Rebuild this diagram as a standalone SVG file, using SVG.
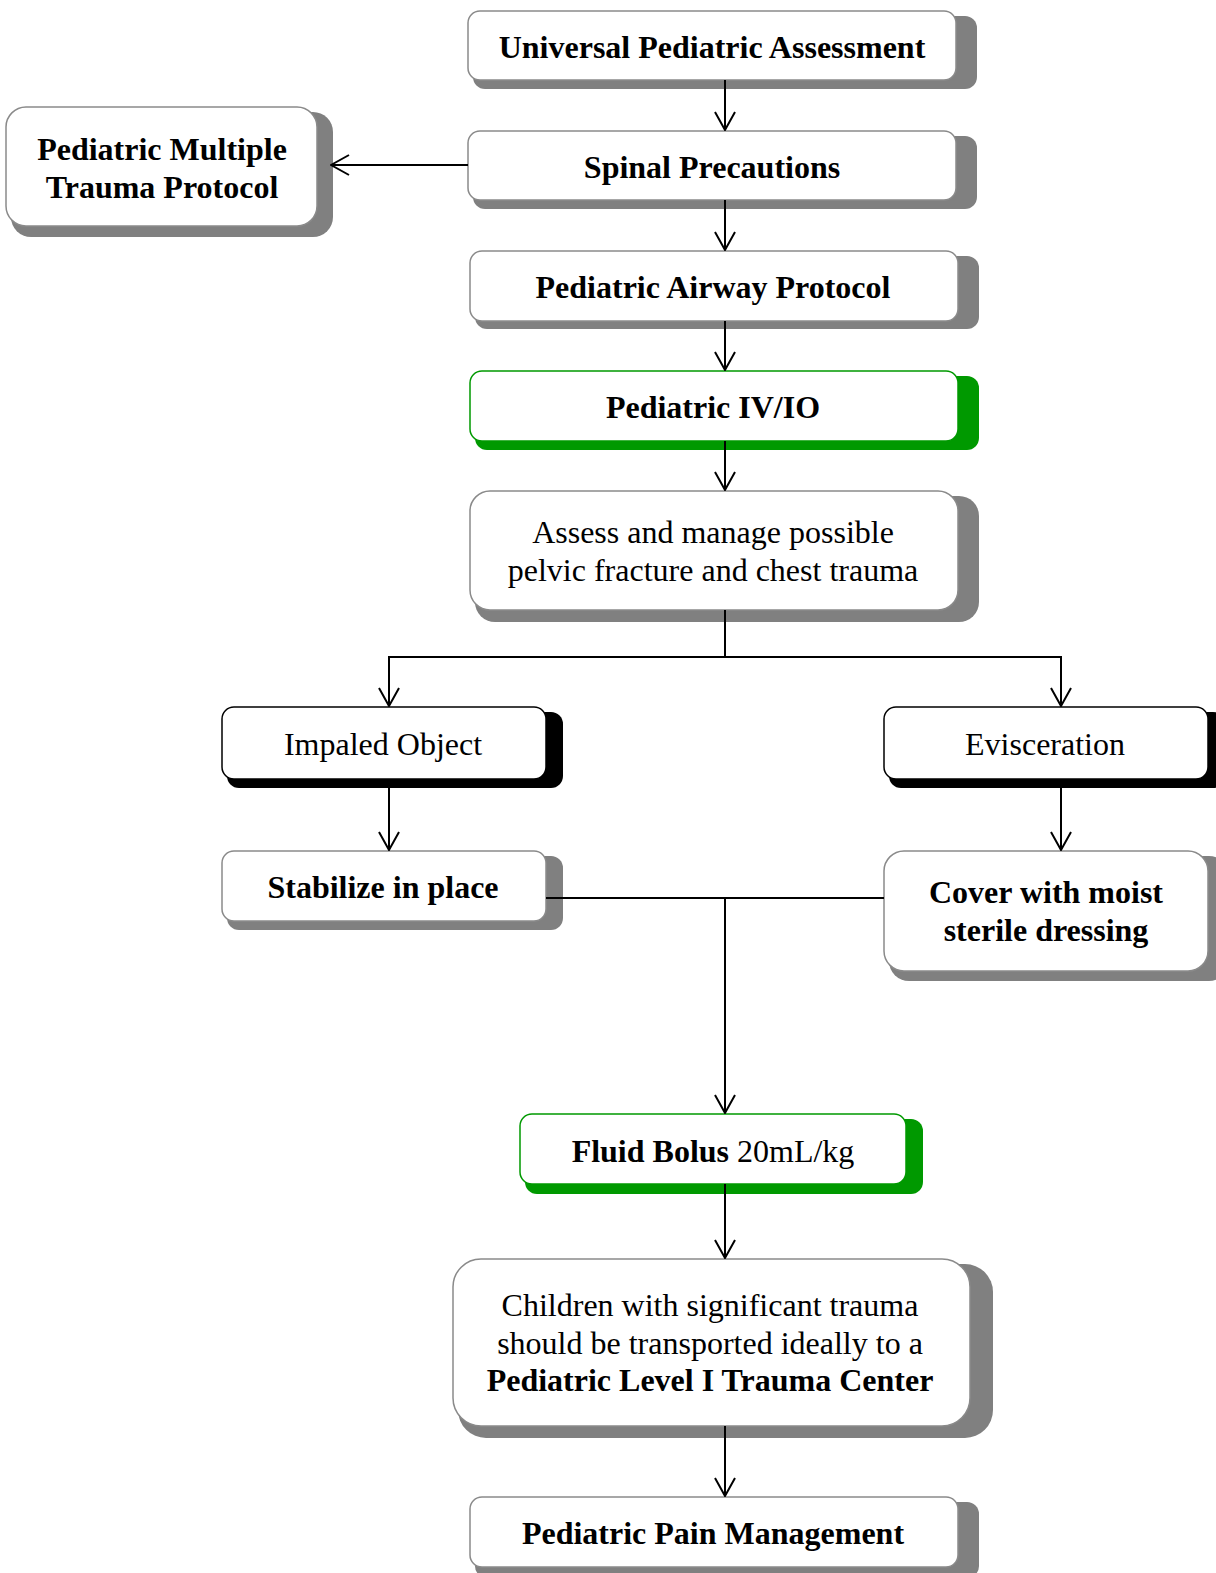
<svg xmlns="http://www.w3.org/2000/svg" width="1216" height="1573" viewBox="0 0 1216 1573">
<defs>
<marker id="arr" viewBox="0 0 20 22" markerWidth="20" markerHeight="22" refX="19" refY="11" orient="auto" markerUnits="userSpaceOnUse">
<path d="M1,1 L19,11 L1,21" fill="none" stroke="#000" stroke-width="2"/>
</marker>
</defs>
<style>
.bx{fill:#fff;stroke:#8a8a8a;stroke-width:1.5}
.bxk{fill:#fff;stroke:#000;stroke-width:1.5}
.bxg{fill:#fff;stroke:#009900;stroke-width:1.5}
.sg{fill:#808080}
.sk{fill:#000}
.sgr{fill:#009900}
text{font-family:"Liberation Serif","Times New Roman",serif;font-size:32px;fill:#000;text-anchor:middle}
.b{font-weight:bold}
.c{fill:none;stroke:#000;stroke-width:2}
</style>
<rect width="1216" height="1573" fill="#fff"/>

<g id="n-universal">
<rect class="sg" x="473" y="16" width="504" height="73" rx="12"/>
<rect class="bx" x="468" y="11" width="488" height="69" rx="12"/>
<text class="b" x="712" y="58">Universal Pediatric Assessment</text>
</g>

<g id="n-spinal">
<rect class="sg" x="473" y="136" width="504" height="73" rx="12"/>
<rect class="bx" x="468" y="131" width="488" height="69" rx="12"/>
<text class="b" x="712" y="178">Spinal Precautions</text>
</g>

<g id="n-multi">
<rect class="sg" x="11" y="112" width="322" height="125" rx="20"/>
<rect class="bx" x="6" y="107" width="311" height="119" rx="20"/>
<text class="b" x="162" y="160">Pediatric Multiple</text>
<text class="b" x="162" y="198">Trauma Protocol</text>
</g>

<g id="n-airway">
<rect class="sg" x="475" y="256" width="504" height="73" rx="12"/>
<rect class="bx" x="470" y="251" width="488" height="70" rx="12"/>
<text class="b" x="713" y="298">Pediatric Airway Protocol</text>
</g>

<g id="n-ivio">
<rect class="sgr" x="475" y="376" width="504" height="74" rx="12"/>
<rect class="bxg" x="470" y="371" width="488" height="70" rx="12"/>
<text class="b" x="713" y="418">Pediatric IV/IO</text>
</g>

<g id="n-assess">
<rect class="sg" x="475" y="496" width="504" height="126" rx="20"/>
<rect class="bx" x="470" y="491" width="488" height="119" rx="20"/>
<text x="713" y="543">Assess and manage possible</text>
<text x="713" y="581">pelvic fracture and chest trauma</text>
</g>

<g id="n-impaled">
<rect class="sk" x="227" y="712" width="336" height="76" rx="12"/>
<rect class="bxk" x="222" y="707" width="324" height="72" rx="12"/>
<text x="383" y="755">Impaled Object</text>
</g>

<g id="n-evisceration">
<rect class="sk" x="889" y="712" width="336" height="76" rx="12"/>
<rect class="bxk" x="884" y="707" width="324" height="72" rx="12"/>
<text x="1045" y="755">Evisceration</text>
</g>

<g id="n-stabilize">
<rect class="sg" x="227" y="856" width="336" height="74" rx="12"/>
<rect class="bx" x="222" y="851" width="324" height="70" rx="12"/>
<text class="b" x="383" y="898">Stabilize in place</text>
</g>

<g id="n-cover">
<rect class="sg" x="889" y="856" width="340" height="125" rx="20"/>
<rect class="bx" x="884" y="851" width="324" height="120" rx="20"/>
<text class="b" x="1046" y="903">Cover with moist</text>
<text class="b" x="1046" y="941">sterile dressing</text>
</g>

<g id="n-fluid">
<rect class="sgr" x="525" y="1119" width="398" height="75" rx="12"/>
<rect class="bxg" x="520" y="1114" width="386" height="70" rx="12"/>
<text x="713" y="1162"><tspan class="b">Fluid Bolus</tspan> 20mL/kg</text>
</g>

<g id="n-children">
<rect class="sg" x="458" y="1264" width="535" height="174" rx="28"/>
<rect class="bx" x="453" y="1259" width="517" height="167" rx="28"/>
<text x="710" y="1316">Children with significant trauma</text>
<text x="710" y="1354">should be transported ideally to a</text>
<text class="b" x="710" y="1391">Pediatric Level I Trauma Center</text>
</g>

<g id="n-pain">
<rect class="sg" x="475" y="1502" width="504" height="76" rx="12"/>
<rect class="bx" x="470" y="1497" width="488" height="70" rx="12"/>
<text class="b" x="713" y="1544">Pediatric Pain Management</text>
</g>

<g id="connectors">
<path class="c" d="M725,80 V130" marker-end="url(#arr)"/>
<path class="c" d="M468,165 H331" marker-end="url(#arr)"/>
<path class="c" d="M725,200 V250" marker-end="url(#arr)"/>
<path class="c" d="M725,321 V370" marker-end="url(#arr)"/>
<path class="c" d="M725,441 V490" marker-end="url(#arr)"/>
<path class="c" d="M725,610 V657"/>
<path class="c" d="M389,657 H1061"/>
<path class="c" d="M389,656 V706" marker-end="url(#arr)"/>
<path class="c" d="M1061,656 V706" marker-end="url(#arr)"/>
<path class="c" d="M389,779 V850" marker-end="url(#arr)"/>
<path class="c" d="M1061,779 V850" marker-end="url(#arr)"/>
<path class="c" d="M546,898 H884"/>
<path class="c" d="M725,898 V1113" marker-end="url(#arr)"/>
<path class="c" d="M725,1184 V1258" marker-end="url(#arr)"/>
<path class="c" d="M725,1426 V1496" marker-end="url(#arr)"/>
</g>
</svg>
